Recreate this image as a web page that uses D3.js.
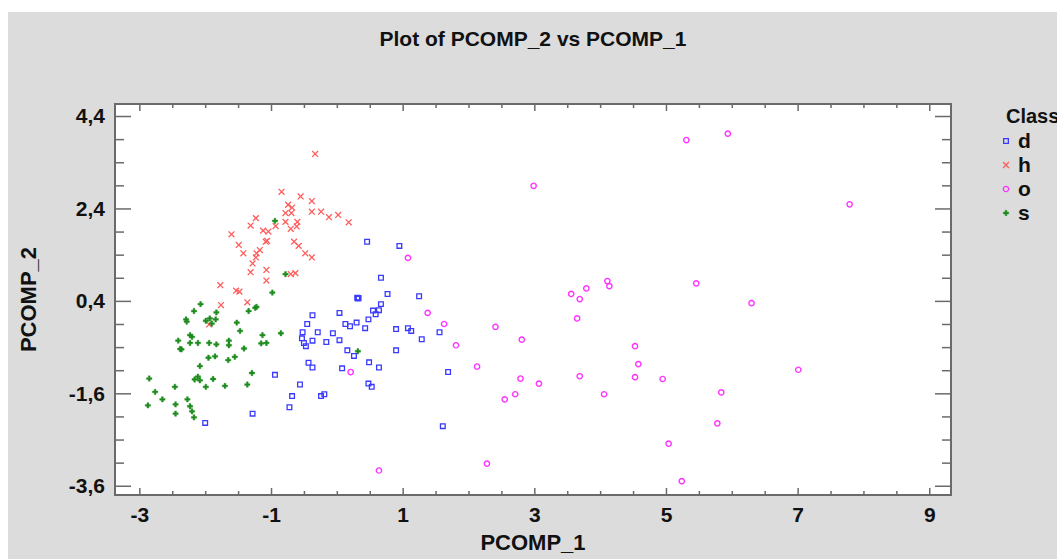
<!DOCTYPE html>
<html>
<head>
<meta charset="utf-8">
<script src="https://cdn.jsdelivr.net/npm/d3@7"></script>
<style>
  body { margin: 0; background: #fff; }
  svg text { font-family: "Liberation Sans", Arial, sans-serif; font-weight: bold; fill: #111; }
</style>
</head>
<body>
<div class="chart"></div>
<script>
// Data: [PCOMP_1, PCOMP_2] per class
var classes = ["d", "h", "o", "s"];

var dPoints = [
  [0.46, 1.68], [0.95, 1.59], [0.67, 0.90], [0.77, 0.55], [1.25, 0.50],
  [0.31, 0.47], [0.33, 0.46], [0.32, 0.45], [0.67, 0.33], [0.55, 0.19],
  [0.64, 0.20], [0.59, 0.11], [0.48, 0.00], [0.04, 0.14], [-0.37, 0.09],
  [0.30, -0.07], [0.13, -0.10], [0.20, -0.15], [0.43, -0.19], [-0.45, -0.10],
  [0.90, -0.21], [1.08, -0.19], [1.13, -0.25], [1.56, -0.28], [-0.29, -0.28],
  [-0.06, -0.30], [-0.52, -0.28], [-0.53, -0.41], [-0.50, -0.51], [-0.47, -0.58],
  [-0.37, -0.46], [-0.16, -0.49], [0.04, -0.45], [1.29, -0.43], [0.90, -0.67],
  [0.16, -0.67], [0.26, -0.79], [0.49, -0.93], [0.64, -1.04], [-0.43, -0.94],
  [-0.37, -1.04], [0.08, -1.06], [1.69, -1.14], [-0.94, -1.20], [-0.56, -1.41],
  [0.48, -1.39], [0.53, -1.46], [-0.68, -1.66], [-0.24, -1.66], [-0.19, -1.62],
  [-0.72, -1.90], [-1.28, -2.04], [1.61, -2.31], [-2.00, -2.24]
];

var hPoints = [
  [-0.33, 3.58], [-0.84, 2.76], [-0.55, 2.66], [-0.38, 2.56], [-0.74, 2.48],
  [-0.68, 2.42], [-0.38, 2.33], [-0.24, 2.33], [0.02, 2.26], [-0.12, 2.21],
  [0.18, 2.10], [-0.78, 2.30], [-0.69, 2.30], [-1.23, 2.19], [-0.78, 2.11],
  [-0.60, 2.11], [-1.31, 2.03], [-0.93, 2.02], [-1.12, 1.92], [-1.04, 1.90],
  [-0.70, 1.96], [-0.61, 2.01], [-1.60, 1.84], [-1.08, 1.68], [-1.06, 1.70],
  [-0.65, 1.68], [-0.58, 1.59], [-1.49, 1.61], [-1.42, 1.43], [-1.17, 1.50],
  [-1.22, 1.43], [-0.48, 1.43], [-0.38, 1.34], [-1.23, 1.34], [-1.28, 1.21],
  [-1.31, 1.02], [-1.07, 1.07], [-1.07, 0.84], [-0.63, 1.00], [-0.70, 0.98],
  [-1.77, 0.74], [-1.53, 0.62], [-1.48, 0.60], [-1.76, 0.31], [-1.36, 0.37],
  [-1.94, -0.11]
];

var oPoints = [
  [2.99, 2.89], [1.38, 0.14], [1.63, -0.10], [1.81, -0.56], [2.41, -0.16],
  [2.81, -0.44], [2.13, -1.02], [2.79, -1.28], [3.07, -1.39], [2.71, -1.62],
  [2.55, -1.73], [2.28, -3.12], [3.56, 0.55], [3.79, 0.67], [4.11, 0.83],
  [4.14, 0.72], [3.69, 0.44], [3.65, 0.02], [4.53, -0.58], [4.58, -0.97],
  [4.53, -1.25], [3.69, -1.23], [4.06, -1.62], [4.95, -1.29], [5.04, -2.69],
  [5.31, 3.88], [5.94, 4.02], [7.79, 2.49], [5.46, 0.78], [6.30, 0.35],
  [7.01, -1.09], [5.84, -1.58], [5.78, -2.25], [5.24, -3.50], [1.08, 1.33],
  [0.21, -1.14], [0.64, -3.27]
];

var sPoints = [
  [-0.94, 2.13], [-0.78, 0.98], [-0.98, 0.58], [-2.07, 0.33], [-2.17, 0.18],
  [-1.83, 0.15], [-1.24, 0.25], [-1.22, 0.27], [-1.34, 0.18], [-2.29, 0.00],
  [-2.28, -0.05], [-1.93, 0.02], [-1.84, 0.00], [-1.99, -0.03], [-1.90, -0.09],
  [-1.52, -0.07], [-1.47, -0.25], [-0.85, -0.30], [-2.23, -0.34], [-2.20, -0.38],
  [-2.41, -0.46], [-2.23, -0.51], [-2.11, -0.51], [-1.94, -0.51], [-1.83, -0.54],
  [-1.64, -0.46], [-1.64, -0.56], [-1.13, -0.34], [-1.15, -0.52], [-1.07, -0.51],
  [-2.38, -0.64], [-2.36, -0.65], [-1.41, -0.63], [-1.85, -0.80], [-1.95, -0.83],
  [-1.55, -0.81], [-1.65, -0.88], [-2.08, -1.01], [-1.29, -1.16], [-2.85, -1.28],
  [-2.11, -1.24], [-2.16, -1.30], [-2.08, -1.32], [-1.88, -1.29], [-2.46, -1.46],
  [-1.99, -1.46], [-1.70, -1.44], [-1.36, -1.41], [-2.76, -1.57], [-2.65, -1.73],
  [-2.27, -1.73], [-2.87, -1.86], [-2.45, -1.84], [-2.23, -1.88], [-2.20, -1.99],
  [-2.45, -2.04], [-2.17, -2.12], [0.32, -0.69]
];

var xTickValues = [-3, -1, 1, 3, 5, 7, 9];
var yTickValues = [4.4, 2.4, 0.4, -1.6, -3.6];

//Define physical space of chart
var svgWidth = 1057;
var svgHeight = 559;

var margin = {
  top: 104,
  right: 106,
  bottom: 64,
  left: 115
},
chartWidth = svgWidth - margin.left - margin.right,
chartHeight = svgHeight - margin.top - margin.bottom;

var svg = d3.select(".chart").append("svg")
  .attr("width", svgWidth)
  .attr("height", svgHeight);

// gray panel behind everything
svg.append("rect")
  .attr("x", 8)
  .attr("y", 12)
  .attr("width", svgWidth - 8)
  .attr("height", svgHeight - 12)
  .attr("fill", "#dcdcdc");

svg.append("text")
  .attr("x", margin.left + chartWidth / 2)
  .attr("y", 46)
  .attr("text-anchor", "middle")
  .style("font-size", "21px")
  .text("Plot of PCOMP_2 vs PCOMP_1");

var chartGroup = svg.append("g")
  .attr("transform", `translate(${margin.left}, ${margin.top})`);

chartGroup.append("rect")
  .attr("width", chartWidth)
  .attr("height", chartHeight)
  .attr("fill", "#fff");

// scales
var xLinearScale = d3.scaleLinear()
  .domain([-3.37, 9.33])
  .range([0, chartWidth]);

var yLinearScale = d3.scaleLinear()
  .domain([-3.8, 4.66])
  .range([chartHeight, 0]);

// comma decimals, plain hyphen for minus
var locale = d3.formatLocale({decimal: ",", thousands: ".", grouping: [3], currency: ["", ""], minus: "-"});
var xFmt = locale.format("d");
var yFmt = locale.format(".1f");

var xMinor = d3.range(-3, 9.01, 0.5).filter(v => xTickValues.indexOf(v) < 0);
var yMinor = d3.range(0, 17).map(k => +(4.4 - k * 0.5).toFixed(1)).filter(v => yTickValues.indexOf(v) < 0);

function styleAxis(g) {
  g.select(".domain").remove();
  g.selectAll(".tick line").attr("stroke", "#6a6a6a").attr("stroke-width", 1.5);
  g.selectAll(".tick text").style("font-size", "21px").attr("fill", "#111");
}

// bottom + top
chartGroup.append("g")
  .attr("transform", `translate(0, ${chartHeight})`)
  .call(d3.axisBottom(xLinearScale).tickValues(xTickValues).tickSize(-7).tickPadding(12).tickFormat(xFmt))
  .call(styleAxis);
chartGroup.append("g")
  .attr("transform", `translate(0, ${chartHeight})`)
  .call(d3.axisBottom(xLinearScale).tickValues(xMinor).tickSize(-4).tickFormat(""))
  .call(styleAxis);
chartGroup.append("g")
  .call(d3.axisTop(xLinearScale).tickValues(xTickValues).tickSize(-7).tickFormat(""))
  .call(styleAxis);
chartGroup.append("g")
  .call(d3.axisTop(xLinearScale).tickValues(xMinor).tickSize(-4).tickFormat(""))
  .call(styleAxis);

// left + right
chartGroup.append("g")
  .call(d3.axisLeft(yLinearScale).tickValues(yTickValues).tickSize(-16).tickPadding(10).tickFormat(yFmt))
  .call(styleAxis);
chartGroup.append("g")
  .call(d3.axisLeft(yLinearScale).tickValues(yMinor).tickSize(-9).tickFormat(""))
  .call(styleAxis);
chartGroup.append("g")
  .attr("transform", `translate(${chartWidth}, 0)`)
  .call(d3.axisRight(yLinearScale).tickValues(yTickValues).tickSize(-16).tickFormat(""))
  .call(styleAxis);
chartGroup.append("g")
  .attr("transform", `translate(${chartWidth}, 0)`)
  .call(d3.axisRight(yLinearScale).tickValues(yMinor).tickSize(-9).tickFormat(""))
  .call(styleAxis);

// frame
chartGroup.append("rect")
  .attr("width", chartWidth)
  .attr("height", chartHeight)
  .attr("fill", "none")
  .attr("stroke", "#6a6a6a")
  .attr("stroke-width", 2);

// marker styles per class
var markers = {
  d: {pts: dPoints, shape: d3.symbolSquare, size: 22, color: "#3a3aff", fill: "none", sw: 1.3},
  h: {pts: hPoints, shape: d3.symbolTimes, size: 24, color: "#ff5c5c", fill: "none", sw: 1.3},
  o: {pts: oPoints, shape: d3.symbolCircle, size: 22, color: "#ff33ff", fill: "none", sw: 1.4},
  s: {pts: sPoints, shape: d3.symbolCross, size: 16, color: "#1e8c1e", fill: "#1e8c1e", sw: 0.4}
};

classes.forEach(function(c) {
  var m = markers[c];
  chartGroup.append("g").selectAll("path")
    .data(m.pts)
    .enter()
    .append("path")
    .attr("transform", d => `translate(${xLinearScale(d[0])}, ${yLinearScale(d[1])})`)
    .attr("d", d3.symbol().type(m.shape).size(m.size))
    .attr("fill", m.fill)
    .attr("stroke", m.color)
    .attr("stroke-width", m.sw);
});

// axis labels
svg.append("text")
  .attr("x", margin.left + chartWidth / 2)
  .attr("y", 550)
  .attr("text-anchor", "middle")
  .style("font-size", "22px")
  .text("PCOMP_1");

svg.append("text")
  .attr("transform", `translate(36, ${margin.top + chartHeight / 2}) rotate(-90)`)
  .attr("text-anchor", "middle")
  .style("font-size", "22px")
  .text("PCOMP_2");

// legend
var legend = svg.append("g").attr("transform", "translate(1006, 0)");
legend.append("text")
  .attr("x", 0)
  .attr("y", 123)
  .style("font-size", "20px")
  .text("Class");

classes.forEach(function(c, i) {
  var m = markers[c];
  var yy = 141 + i * 24;
  legend.append("path")
    .attr("transform", `translate(0, ${yy})`)
    .attr("d", d3.symbol().type(m.shape).size(m.size))
    .attr("fill", m.fill)
    .attr("stroke", m.color)
    .attr("stroke-width", m.sw);
  legend.append("text")
    .attr("x", 12)
    .attr("y", yy + 7)
    .style("font-size", "21px")
    .text(c);
});
</script>
</body>
</html>
